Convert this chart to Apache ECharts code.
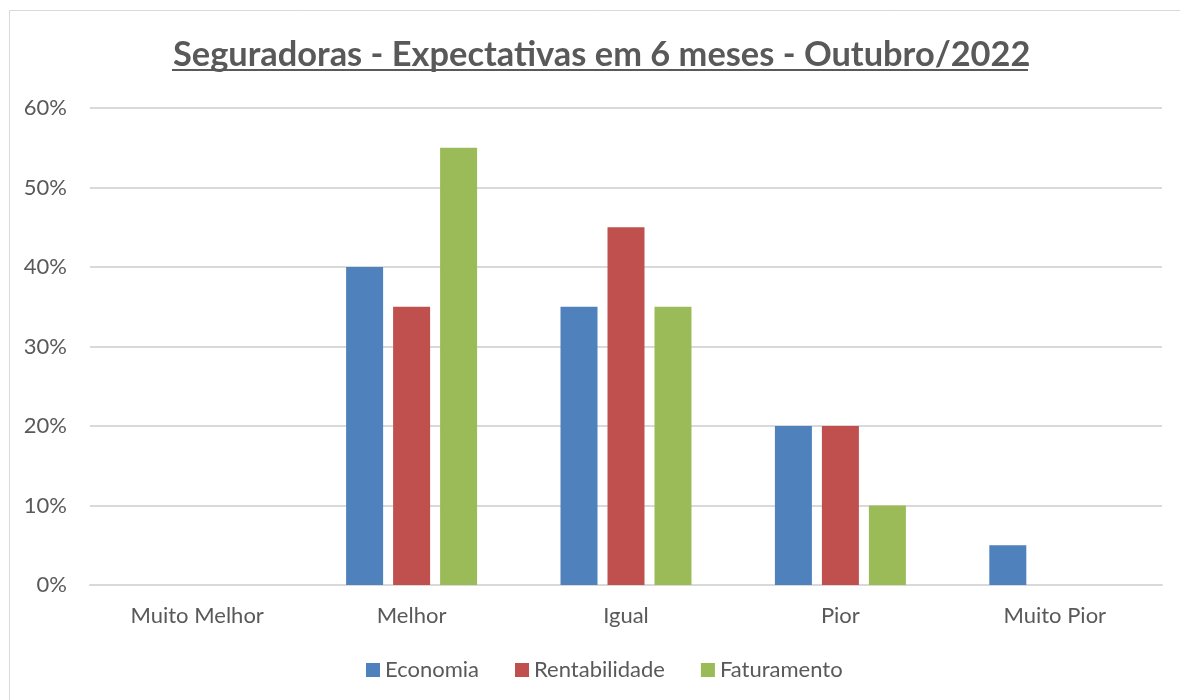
<!DOCTYPE html>
<html>
<head>
<meta charset="utf-8">
<script src="https://cdn.jsdelivr.net/npm/echarts@6/dist/echarts.min.js"></script>
<style>
  html, body { margin: 0; padding: 0; background: #fff; }
  #chart { width: 1180px; height: 700px; }
</style>
</head>
<body>
<div id="chart"></div>
<script>
const categories = ['Muito Melhor', 'Melhor', 'Igual', 'Pior', 'Muito Pior'];
const economia = [0, 40, 35, 20, 5];
const rentabilidade = [0, 35, 45, 20, 0];
const faturamento = [0, 55, 35, 10, 0];

const font = 'Lato, "Open Sans", sans-serif';
const chart = echarts.init(document.getElementById('chart'));

chart.setOption({
    animation: false,
    title: {
        text: 'Seguradoras - Expectativas em 6 meses - Outubro/2022',
        left: 168,
        top: 33,
        textStyle: { fontFamily: font, fontSize: 34.4, fontWeight: 'bold', color: '#595959' }
    },
    graphic: [
        {
            type: 'rect',
            shape: { x: 9.5, y: 10.5, width: 1200, height: 720 },
            style: { fill: 'none', stroke: '#d9d9d9', lineWidth: 1 },
            silent: true
        },
        {
            type: 'line',
            shape: { x1: 172, y1: 70, x2: 1028, y2: 70 },
            style: { stroke: '#595959', lineWidth: 2 },
            silent: true
        }
    ],
    legend: {
        bottom: 14,
        left: 361,
        itemWidth: 14,
        itemHeight: 14,
        itemGap: 36,
        icon: 'rect',
        textStyle: { fontFamily: font, fontSize: 22, color: '#595959' },
        data: ['Economia', 'Rentabilidade', 'Faturamento']
    },
    grid: { left: 90, right: 18, top: 108, bottom: 115, containLabel: false },
    xAxis: {
        type: 'category',
        data: categories,
        axisLine: { lineStyle: { color: '#d9d9d9', width: 2 } },
        axisTick: { show: false },
        axisLabel: { fontFamily: font, fontSize: 22, color: '#595959', margin: 20 }
    },
    yAxis: {
        type: 'value',
        min: 0,
        max: 60,
        interval: 10,
        axisLine: { show: false },
        axisTick: { show: false },
        splitLine: { lineStyle: { color: '#d9d9d9', width: 2 } },
        axisLabel: { fontFamily: font, fontSize: 22, color: '#595959', margin: 23, formatter: '{value}%' }
    },
    series: [
        { name: 'Economia', type: 'bar', data: economia, barWidth: 37, barGap: '27%', itemStyle: { color: '#4F81BD' } },
        { name: 'Rentabilidade', type: 'bar', data: rentabilidade, barWidth: 37, barGap: '27%', itemStyle: { color: '#C0504D' } },
        { name: 'Faturamento', type: 'bar', data: faturamento, barWidth: 37, barGap: '27%', itemStyle: { color: '#9BBB59' } }
    ]
});

window.onresize = function () {
    chart.resize();
};
</script>
</body>
</html>
